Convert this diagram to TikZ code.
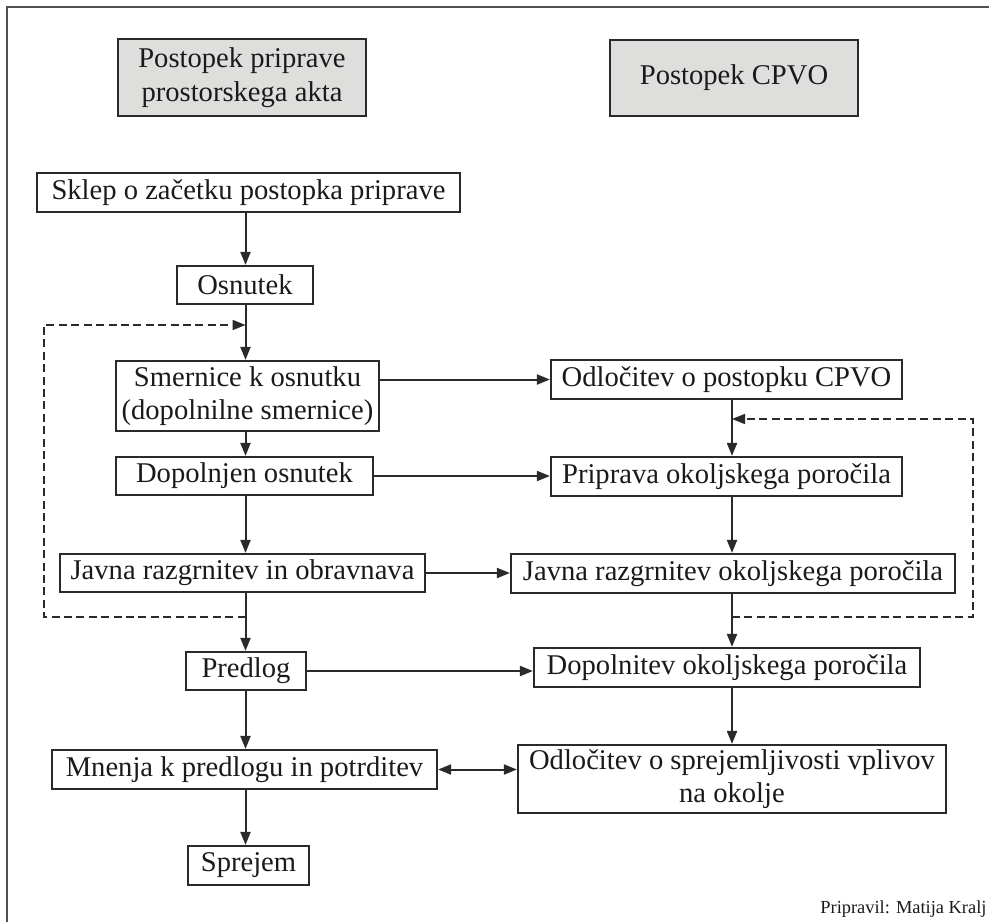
\documentclass[tikz,border=0pt]{standalone}
\usepackage{fontspec}
\setmainfont{Liberation Serif}
\usetikzlibrary{arrows.meta}

\definecolor{ink}{HTML}{1A1A1A}
\definecolor{rule}{HTML}{2A2A2A}
\definecolor{headfill}{HTML}{DEDEDC}
\definecolor{framegray}{HTML}{505050}

\tikzset{
  stepbox/.style={draw=rule, line width=1.1pt, inner sep=0pt, align=center,
    text=ink, font=\fontsize{14.3}{16.5}\selectfont},
  headbox/.style={stepbox, fill=headfill, font=\fontsize{14.3}{17}\selectfont},
  arr/.style={draw=rule, line width=1pt, -{Triangle[length=6.5pt,width=5pt]}},
  dblarr/.style={draw=rule, line width=1pt,
    {Triangle[length=6.5pt,width=5pt]}-{Triangle[length=6.5pt,width=5pt]}},
  fb/.style={draw=rule, line width=0.8pt, dash pattern=on 4pt off 2.2pt},
  fbarr/.style={fb, -{Triangle[length=6.5pt,width=5pt]}},
}

\begin{document}
\begin{tikzpicture}[x=0.5pt, y=-0.5pt]
\useasboundingbox (0,0) rectangle (989,921);

% outer frame
\draw[framegray, line width=1.1pt] (7,7) rectangle (1010,940);

% column headings
\node[headbox, minimum width=124pt, minimum height=38.5pt] (hdrL) at (242,77.5)
  {Postopek priprave\\prostorskega akta};
\node[headbox, minimum width=124pt, minimum height=38pt] (hdrR) at (734,78)
  {Postopek CPVO};

% spatial act procedure
\node[stepbox, minimum width=211.5pt, minimum height=19.5pt] (sklep) at (248.5,192.5)
  {Sklep o začetku postopka priprave};
\node[stepbox, minimum width=68pt, minimum height=19pt] (osnutek) at (245,285)
  {Osnutek};
\node[stepbox, minimum width=131.5pt, minimum height=35pt] (smernice) at (247.5,396)
  {Smernice k osnutku\\(dopolnilne smernice)};
\node[stepbox, minimum width=128.5pt, minimum height=19pt] (dopolnjen) at (244.5,476)
  {Dopolnjen osnutek};
\node[stepbox, minimum width=182.5pt, minimum height=19pt] (javnaL) at (242.5,573)
  {Javna razgrnitev in obravnava};
\node[stepbox, minimum width=60pt, minimum height=19pt] (predlog) at (246,671)
  {Predlog};
\node[stepbox, minimum width=192.5pt, minimum height=19.5pt] (mnenja) at (244.5,769.5)
  {Mnenja k predlogu in potrditev};
\node[stepbox, minimum width=60.5pt, minimum height=19.5pt] (sprejem) at (248.5,865.5)
  {Sprejem};

% SEA procedure
\node[stepbox, minimum width=175.5pt, minimum height=19.5pt] (odlCPVO) at (726.5,379.5)
  {Odločitev o postopku CPVO};
\node[stepbox, minimum width=175.5pt, minimum height=19.5pt] (priprava) at (726.5,476.5)
  {Priprava okoljskega poročila};
\node[stepbox, minimum width=222pt, minimum height=19.5pt] (javnaR) at (733,573.5)
  {Javna razgrnitev okoljskega poročila};
\node[stepbox, minimum width=193pt, minimum height=19.5pt] (dopolnitev) at (727,667.5)
  {Dopolnitev okoljskega poročila};
\node[stepbox, minimum width=214pt, minimum height=34pt] (odlSprej) at (732,779)
  {Odločitev o sprejemljivosti vplivov\\na okolje};

% credit line
\node[anchor=base west, inner sep=0pt, text=ink, font=\fontsize{9.2}{11}\selectfont]
  (credit) at (820,913) {Pripravil: Matija Kralj};

% column axes
\coordinate (colL) at (245.5,0);
\coordinate (colR) at (732,0);

% vertical flow, left column
\draw[arr] (sklep.south -| colL) -- (osnutek.north -| colL);
\draw[arr] (osnutek.south -| colL) -- (smernice.north -| colL);
\draw[arr] (smernice.south -| colL) -- (dopolnjen.north -| colL);
\draw[arr] (dopolnjen.south -| colL) -- (javnaL.north -| colL);
\draw[arr] (javnaL.south -| colL) -- (predlog.north -| colL);
\draw[arr] (predlog.south -| colL) -- (mnenja.north -| colL);
\draw[arr] (mnenja.south -| colL) -- (sprejem.north -| colL);

% vertical flow, right column
\draw[arr] (odlCPVO.south -| colR) -- (priprava.north -| colR);
\draw[arr] (priprava.south -| colR) -- (javnaR.north -| colR);
\draw[arr] (javnaR.south -| colR) -- (dopolnitev.north -| colR);
\draw[arr] (dopolnitev.south -| colR) -- (odlSprej.north -| colR);

% links between the two procedures
\draw[arr] (smernice.east |- odlCPVO.west) -- (odlCPVO.west);
\draw[arr] (dopolnjen.east) -- (dopolnjen.east -| priprava.west);
\draw[arr] (javnaL.east) -- (javnaL.east -| javnaR.west);
\draw[arr] (predlog.east) -- (predlog.east -| dopolnitev.west);
\draw[dblarr] (mnenja.east) -- (mnenja.east -| odlSprej.west);

% feedback loops (dashed)
\coordinate (fbLout) at (245.5,617);
\coordinate (fbLin)  at (245.5,325);
\coordinate (fbLx)   at (44,0);
\draw[fbarr] (fbLout) -- (fbLout -| fbLx) -- (fbLin -| fbLx) -- (fbLin);

\coordinate (fbRout) at (732,617);
\coordinate (fbRin)  at (732,419);
\coordinate (fbRx)   at (973,0);
\draw[fbarr] (fbRout) -- (fbRout -| fbRx) -- (fbRin -| fbRx) -- (fbRin);
\end{tikzpicture}
\end{document}
